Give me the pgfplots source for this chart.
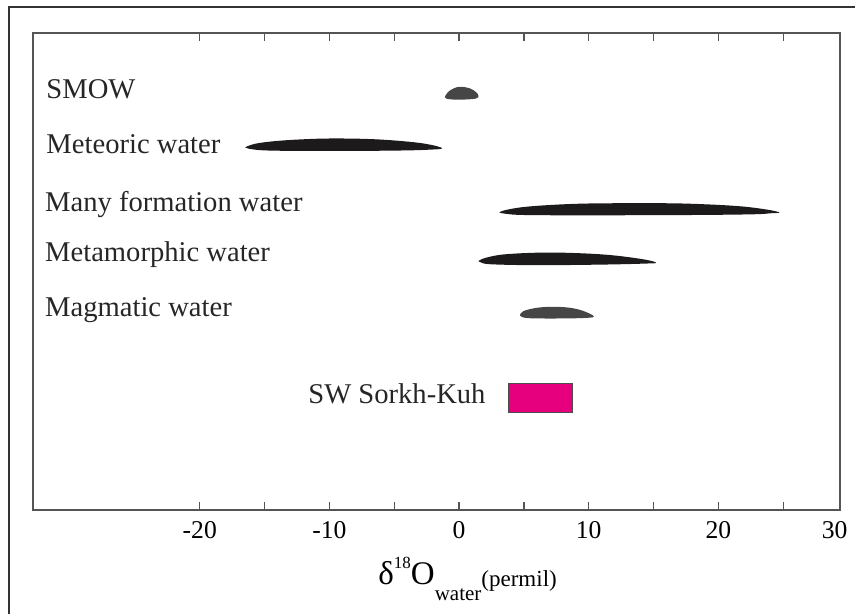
\documentclass[border=0pt]{standalone}
\usepackage{pgfplots}
\pgfplotsset{compat=1.18}
\usepackage{fontspec}
\setmainfont{Liberation Serif}
\definecolor{darkfill}{RGB}{28,26,27}
\definecolor{grayfill}{RGB}{70,70,70}
\definecolor{sorkh}{RGB}{230,0,126}
\definecolor{axgray}{RGB}{85,85,85}
\begin{document}
\begin{tikzpicture}
\useasboundingbox (0,0) rectangle (427.5pt,307pt);
\draw[line width=1pt, color=black!80] (4.5pt,0pt) -- (4.5pt,303.5pt) -- (427.5pt,303.5pt);
\begin{axis}[
  at={(16.5pt,52pt)}, anchor=south west,
  scale only axis, width=403.5pt, height=238.5pt,
  xmin=-32.86, xmax=29.38,
  ymin=33, ymax=510, y dir=reverse,
  ytick=\empty,
  xtick={-20,-10,0,10,20},
  xticklabels={-20,-10,0,10,20},
  minor xtick={-15,-5,5,15,25},
  extra x ticks={28.96},
  extra x tick labels={30},
  extra x tick style={major tick length=0pt},
  tick align=inside,
  xtick pos=both,
  major tick length=4pt, minor tick length=4pt,
  tick style={color=axgray, line width=0.6pt},
  axis line style={color=axgray, line width=0.6pt},
  ticklabel style={font=\fontsize{12.8}{12.8}\selectfont},
  xticklabel style={yshift=-2pt},
  clip=false,
]
% SMOW
\addplot[fill=grayfill, draw=none, smooth, tension=0.6] coordinates {
 (-1.08,96.5) (-0.85,92) (-0.4,88.3) (0.1,86.8) (0.8,88.2) (1.3,92) (1.5,96)
 (1.3,98.5) (0.5,99.5) (-0.5,99.5) (-1.0,98.5) (-1.08,96.5)} -- cycle;
% Meteoric
\addplot[fill=darkfill, draw=none, smooth, tension=0.6] coordinates {
 (-16.5,147.3) (-15.8,144) (-14.5,141.5) (-12.5,139.6) (-10,138.5) (-7,139) (-4.5,141) (-2.5,144) (-1.3,148.3)
 (-2.5,149.8) (-5,150.6) (-10,151) (-14.5,150.6) (-16,149.2) (-16.5,147.3)} -- cycle;
% Many formation
\addplot[fill=darkfill, draw=none, smooth, tension=0.6] coordinates {
 (3.1,212.3) (3.6,210) (5,207) (7.3,204.8) (10,203.5) (14,203.2) (17.5,203.6) (21.4,206) (23.7,209.5) (24.7,212.5)
 (24,213.3) (22.7,214.3) (18,215) (10,215.3) (5,215) (3.5,213.6) (3.1,212.3)} -- cycle;
% Metamorphic
\addplot[fill=darkfill, draw=none, smooth, tension=0.6] coordinates {
 (1.5,261) (2.0,258) (3.4,254.5) (6,252.7) (8.6,252.9) (11.6,255) (14.2,259.3) (15.2,262.7)
 (14.3,263.6) (11,264.6) (6,265.2) (2.5,264.3) (1.7,262.5) (1.5,261)} -- cycle;
% Magmatic
\addplot[fill=grayfill, draw=none, smooth, tension=0.6] coordinates {
 (4.7,315) (4.95,311.2) (5.99,307.8) (7.27,306.8) (8.56,307.8) (9.59,311) (10.4,316.5)
 (9.6,318) (7.5,318.5) (5.4,318.2) (4.8,316.6) (4.7,315)} -- cycle;
% SW Sorkh-Kuh
\addplot[fill=sorkh, draw=black!70, line width=0.5pt] coordinates {
 (3.78,383) (8.71,383) (8.71,412) (3.78,412)} -- cycle;

\begin{scope}[every node/.style={anchor=base west, inner sep=0pt, font=\fontsize{14.3}{14.3}\selectfont, text=black!85}]
\node at (axis cs:-31.85,99) {SMOW};
\node at (axis cs:-31.85,154) {Meteoric water};
\node at (axis cs:-31.95,211.7) {Many formation water};
\node at (axis cs:-31.95,261.7) {Metamorphic water};
\node at (axis cs:-31.95,316.7) {Magmatic water};
\node at (axis cs:-11.65,403) {SW Sorkh-Kuh};
\end{scope}
\node[anchor=base west, inner sep=0pt] at (axis cs:-6.25,584) {{\fontsize{16.5}{16.5}\selectfont δ}\raisebox{8pt}{\fontsize{8.5}{8.5}\selectfont 18}{\fontsize{16.5}{16.5}\selectfont O}\raisebox{-8pt}{\fontsize{10.5}{10.5}\selectfont water}\raisebox{-1pt}{\fontsize{11.5}{11.5}\selectfont (permil)}};
\end{axis}
\end{tikzpicture}
\end{document}
